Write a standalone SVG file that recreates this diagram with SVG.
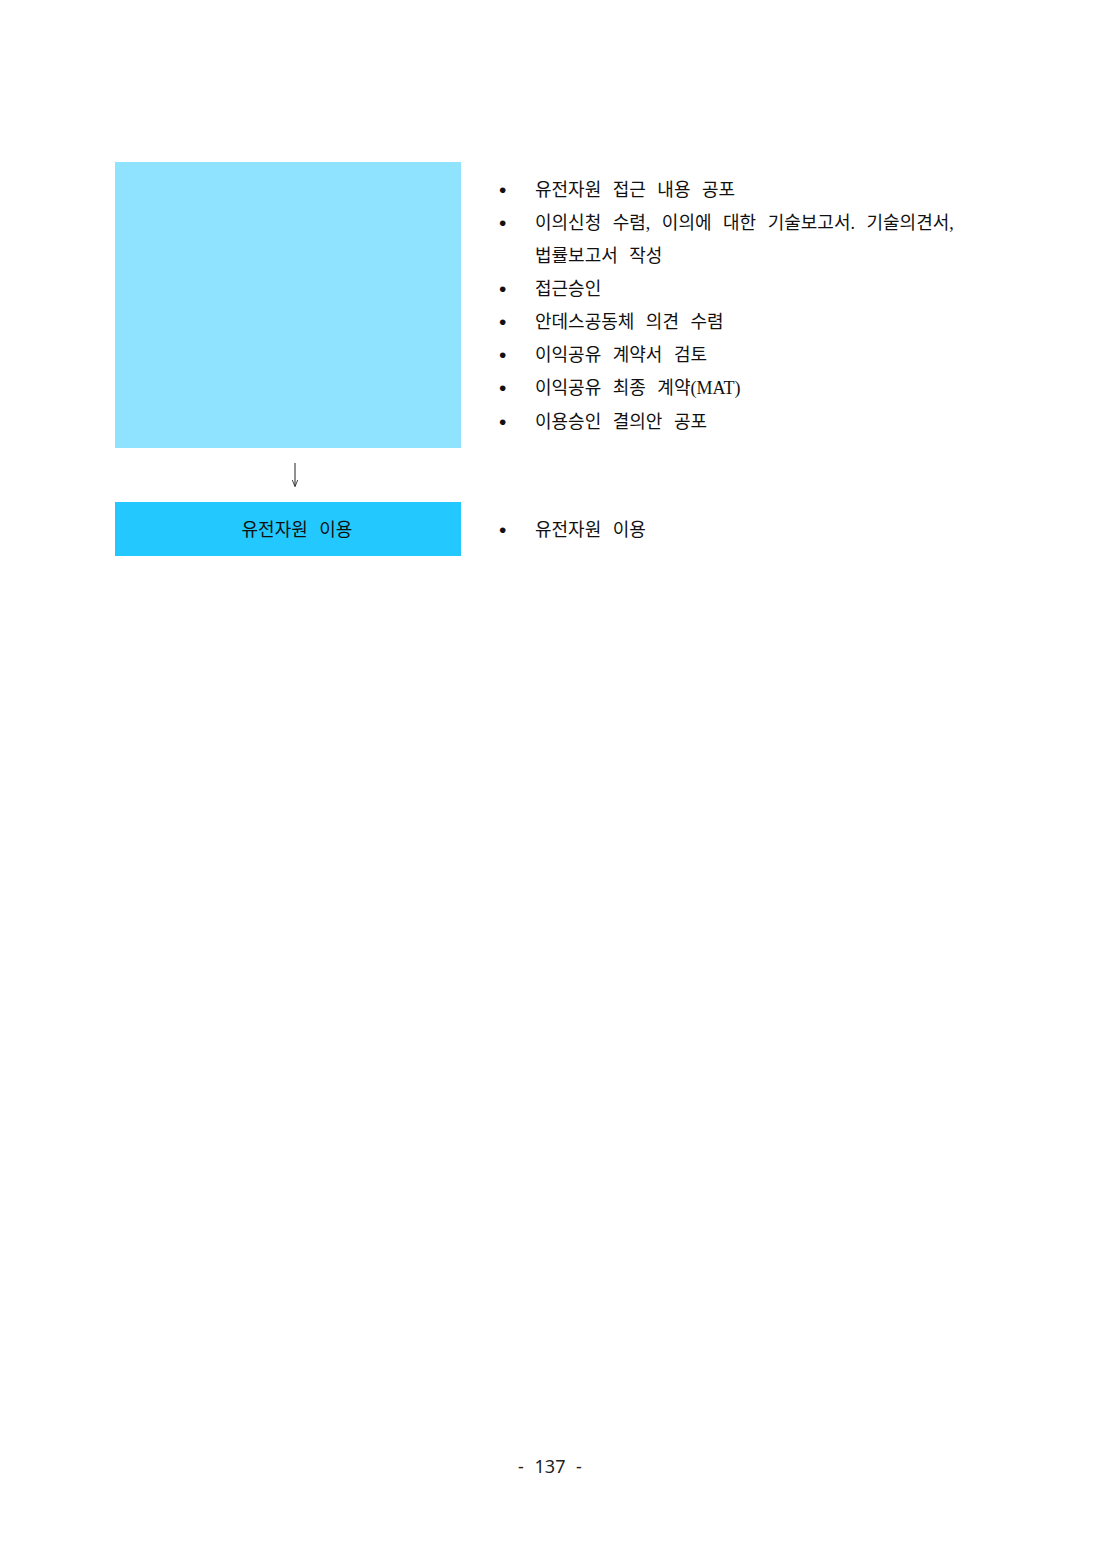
<svg xmlns="http://www.w3.org/2000/svg" width="1100" height="1554" viewBox="0 0 1100 1554">
<style>
.t{font-family:"Liberation Serif","Noto Sans CJK KR",serif;font-size:18px;fill:#111;word-spacing:7px}
.b{font-family:"Liberation Sans",sans-serif;font-size:21px;fill:#111}
.pg{font-family:"Noto Sans","Liberation Sans",sans-serif;font-size:18px;fill:#222;word-spacing:6px}
.arrow{stroke:#222;stroke-width:1;fill:none}
</style>
<defs>
<marker id="ah" viewBox="0 0 10 10" refX="9" refY="5" markerWidth="7" markerHeight="7" orient="auto" markerUnits="userSpaceOnUse">
<path d="M0,1 L10,5 L0,9" fill="none" stroke="#222" stroke-width="1.2"/>
</marker>
</defs>
<rect width="1100" height="1554" fill="#fff"/>
<g id="node-top">
<rect x="115" y="162" width="346" height="286" fill="#8FE3FE"/>
</g>
<g id="connectors">
<line class="arrow" x1="295" y1="463" x2="295" y2="486" marker-end="url(#ah)"/>
</g>
<g id="node-use">
<rect x="115" y="502" width="346" height="54" fill="#23C9FE"/>
<text class="t" x="297" y="536" text-anchor="middle">유전자원 이용</text>
</g>
<g id="list-top">
<text class="b" x="499" y="197">•</text><text class="t" x="535" y="196">유전자원 접근 내용 공포</text>
<text class="b" x="499" y="230">•</text><text class="t" x="535" y="229">이의신청 수렴, 이의에 대한 기술보고서. 기술의견서,</text>
<text class="t" x="535" y="262">법률보고서 작성</text>
<text class="b" x="499" y="296">•</text><text class="t" x="535" y="295">접근승인</text>
<text class="b" x="499" y="329">•</text><text class="t" x="535" y="328">안데스공동체 의견 수렴</text>
<text class="b" x="499" y="362">•</text><text class="t" x="535" y="361">이익공유 계약서 검토</text>
<text class="b" x="499" y="395">•</text><text class="t" x="535" y="394">이익공유 최종 계약(MAT)</text>
<text class="b" x="499" y="429">•</text><text class="t" x="535" y="428">이용승인 결의안 공포</text>
</g>
<g id="list-use">
<text class="b" x="499" y="537">•</text><text class="t" x="535" y="536">유전자원 이용</text>
</g>
<text class="pg" x="550" y="1473" text-anchor="middle">- 137 -</text>
</svg>
